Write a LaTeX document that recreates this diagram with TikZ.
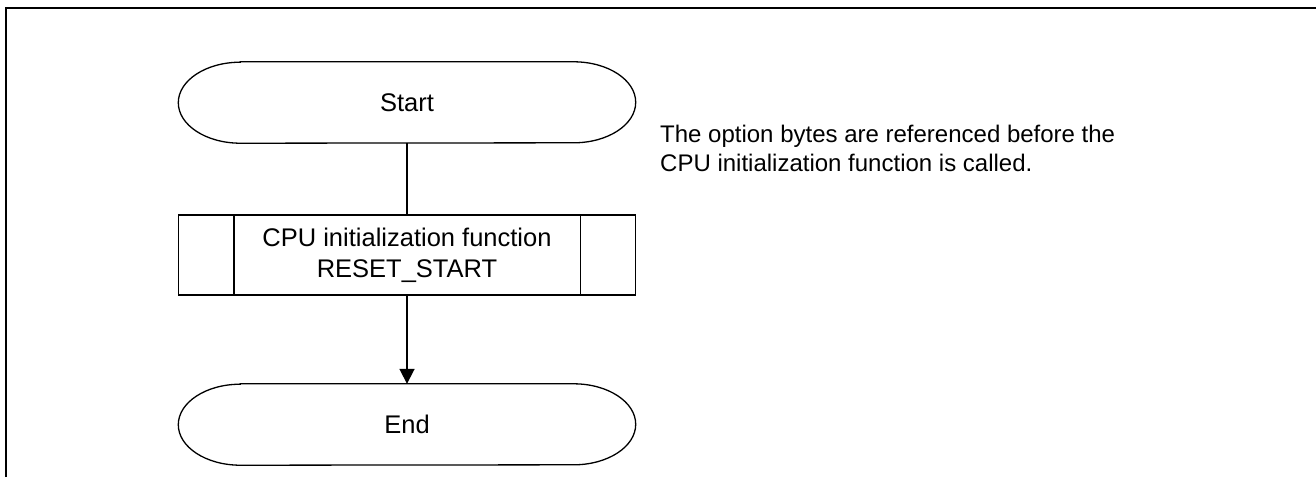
\documentclass[tikz,border=0pt]{standalone}
\usepackage{fontspec}
\setmainfont{Liberation Sans}
\usetikzlibrary{positioning,arrows.meta,calc}

\begin{document}
\begin{tikzpicture}[x=1pt,y=-1pt,
    font=\fontsize{25.5}{31}\selectfont,
% Terminal (start / end) style, outline drawn below
    terminal/.style={rectangle,inner sep=0pt,
		minimum width=457pt,minimum height=81pt},
% Subroutine box
    subproc/.style={rectangle,line width=1.6pt,draw,align=center,
		minimum width=457pt,minimum height=80pt},
    note/.style={rectangle,inner sep=0pt,align=left,anchor=north west,
		font=\fontsize{24}{29}\selectfont},
    flow/.style={line width=1.8pt},
    >={Triangle[length=15pt,width=15pt]}
    ]
\useasboundingbox (0,0) rectangle (1316,477);
\draw [line width=2.2pt] (6,477) -- (6,8) -- (1316,8);

\node [terminal] (start) at (407,102.5) {Start};
\node [subproc,below=71pt of start] (cpuinit) {CPU initialization function\\RESET\_START};
\node [terminal,below=88pt of cpuinit] (finish) {End};

% elliptic caps of the terminals
\foreach \t in {start,finish}
  \draw [line width=1.3pt] ([xshift=62pt]\t.north west) -- ([xshift=-62pt]\t.north east)
    arc [start angle=90,end angle=-90,x radius=62pt,y radius=40.5pt]
    -- ([xshift=62pt]\t.south west)
    arc [start angle=270,end angle=90,x radius=62pt,y radius=40.5pt] -- cycle;

% side bars of the subroutine box
\draw [line width=1.6pt] ([xshift=56pt]cpuinit.north west) -- ([xshift=56pt]cpuinit.south west);
\draw [line width=1.6pt] ([xshift=-56pt]cpuinit.north east) -- ([xshift=-56pt]cpuinit.south east);

\draw [flow] (start) -- (cpuinit);
\draw [flow,->] (cpuinit) -- (finish);

\node [note] (remark) at (660,125) {The option bytes are referenced before the\\CPU initialization function is called.};
\end{tikzpicture}
\end{document}
